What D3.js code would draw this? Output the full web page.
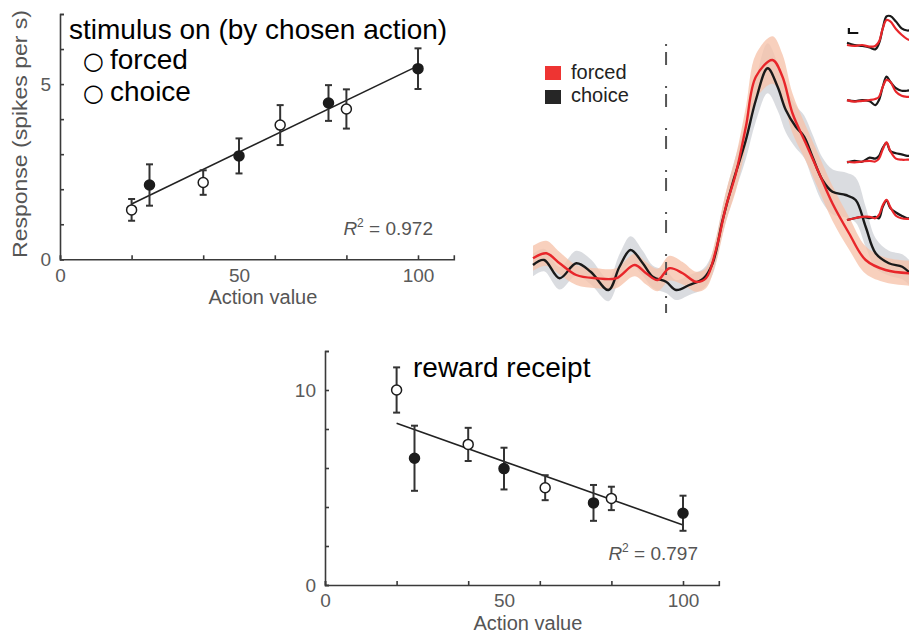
<!DOCTYPE html>
<html>
<head>
<meta charset="utf-8">
<script src="https://cdn.jsdelivr.net/npm/d3@7"></script>
<style>
  body { margin: 0; background: #fff; }
  svg { display: block; font-family: "Liberation Sans", Arial, sans-serif; }
</style>
</head>
<body>
<script>
// ---- scatter panels: action value vs response ----
var actionValue = [20, 25, 40, 50, 61.5, 75, 80, 100];
var trialType   = ["forced", "choice", "forced", "choice", "forced", "choice", "forced", "choice"];
var stimResp    = [1.41, 2.12, 2.19, 2.95, 3.83, 4.46, 4.29, 5.44];
var stimErr     = [0.31, 0.59, 0.35, 0.50, 0.57, 0.51, 0.56, 0.58];
var rewardResp  = [10.0, 6.50, 7.21, 5.97, 4.99, 4.21, 4.44, 3.68];
var rewardErr   = [1.16, 1.67, 0.85, 1.07, 0.64, 0.92, 0.60, 0.90];

var fitX       = [20, 100];
var stimFitY   = [1.58, 5.52];
var rewardFitY = [8.29, 3.08];

var xTicks        = [0, 20, 40, 60, 80, 100];
var xLabels       = [0, 50, 100];
var stimYTicks    = [0, 1, 2, 3, 4, 5, 6, 7];
var stimYLabels   = [0, 5];
var rewardYTicks  = [0, 2, 4, 6, 8, 10, 12];
var rewardYLabels = [0, 10];

// ---- time course (ms from stimulus, arbitrary rate units) ----
var choiceT  = [-600,-550,-480,-405,-340,-260,-210,-160,-105,-60,0,45,105,170,210,255,300,360,405,458,503,540,585,623,660,705,750,810,855,900,945,1005,1065,1100];
var choiceV  = [1.8,2.0,1.27,1.87,1.53,0.8,1.73,2.4,1.87,1.33,1.13,0.8,1.0,1.27,1.87,3.6,5.07,6.8,8.4,9.67,8.93,8.0,7.33,6.93,6.13,5.2,4.73,4.6,4.4,3.33,2.27,1.87,1.73,1.47];
var choiceSE = [0.45,0.45,0.45,0.5,0.5,0.45,0.5,0.55,0.5,0.45,0.45,0.4,0.4,0.4,0.45,0.55,0.65,0.75,0.85,1.0,0.95,0.9,0.85,0.85,0.9,0.9,0.9,0.9,0.9,0.8,0.6,0.5,0.5,0.5];

var forcedT  = [-600,-540,-480,-405,-315,-225,-142,-90,-38,15,75,135,180,225,270,315,360,405,480,525,570,630,690,750,825,900,990,1100];
var forcedV  = [2.07,2.27,1.87,1.4,1.27,1.27,1.8,1.47,1.2,1.67,1.47,1.13,1.27,2.4,4.13,5.47,7.33,9.33,10.0,9.33,7.87,6.67,5.47,4.27,3.07,2.0,1.6,1.47];
var forcedSE = [0.5,0.5,0.45,0.4,0.4,0.4,0.45,0.45,0.45,0.5,0.45,0.4,0.4,0.5,0.6,0.7,0.8,0.9,0.95,0.9,0.8,0.7,0.7,0.7,0.65,0.55,0.5,0.5];

// small insets on the right (four rows)
var insetT = [-600,-400,-200,0,150,250,350,450,550,700,850,1000,1100];
var insetChoice = [
  [2.3,1.67,1.4,1.0,0.46,2.1,6.3,9.6,9.7,8.2,6.3,5.7,5.8],
  [2.2,1.9,2.2,1.9,0.8,2.2,5.9,8.7,7.3,5.5,4.8,4.8,5.0],
  [1.57,2.0,1.74,2.9,2.6,3.35,5.6,7.0,4.7,4.1,3.8,3.35,3.5],
  [1.1,1.6,2.0,1.6,2.0,1.6,4.8,6.5,4.4,3.2,2.3,1.6,1.6]
];
var insetForced = [
  [1.67,1.4,1.67,1.2,1.4,2.6,6.3,8.6,8.2,6.1,4.5,3.3,2.9],
  [2.2,1.76,2.0,2.2,2.5,3.1,5.9,7.8,7.3,4.5,3.4,3.1,3.1],
  [1.74,1.57,1.8,2.0,1.8,2.6,5.2,7.1,4.7,2.6,2.3,2.3,2.3],
  [1.1,1.6,2.0,2.0,1.6,2.5,5.2,6.7,4.7,2.3,1.6,1.4,1.4]
];
var insetBase = [51, 108, 168, 224];
var scaleBarT = [-550, -300];
var scaleBarV = [5.0, 6.4];

var legendNames  = ["forced", "choice"];
var legendColors = ["#ee3432", "#262626"];

var svg = d3.select("body").append("svg")
    .attr("width", 909)
    .attr("height", 635);

// draws one scatter panel with axes, error bars and fit line
function scatterPanel(x, y, resp, err, fitY, yTicks, yLabels, rText, rValue) {
    var g = svg.append("g");

    // minor ticks (inward) + domain line
    g.append("g")
        .attr("transform", "translate(0," + y.range()[0] + ")")
        .call(d3.axisBottom(x).tickValues(xTicks).tickSize(-4).tickFormat(""));
    g.append("g")
        .attr("transform", "translate(0," + y.range()[0] + ")")
        .call(d3.axisBottom(x).tickValues(xLabels).tickSize(0).tickPadding(9).tickFormat(d3.format("d")))
        .call(a => a.select(".domain").remove());
    g.append("g")
        .attr("transform", "translate(" + x.range()[0] + ",0)")
        .call(d3.axisLeft(y).tickValues(yTicks).tickSize(-4).tickFormat(""));
    g.append("g")
        .attr("transform", "translate(" + x.range()[0] + ",0)")
        .call(d3.axisLeft(y).tickValues(yLabels).tickSize(0).tickPadding(9).tickFormat(d3.format("d")))
        .call(a => a.select(".domain").remove());

    g.selectAll(".domain, .tick line").attr("stroke", "#3a3a3a").attr("stroke-width", 1.6);
    g.selectAll(".tick text").attr("fill", "#5a5a5a").attr("font-size", "19px")
        .attr("font-family", "'Liberation Sans', Arial, sans-serif");

    // fit line
    g.append("line")
        .attr("x1", x(fitX[0])).attr("y1", y(fitY[0]))
        .attr("x2", x(fitX[1])).attr("y2", y(fitY[1]))
        .attr("stroke", "#222").attr("stroke-width", 1.6);

    var idx = d3.range(actionValue.length);
    // error bars
    var eb = g.selectAll(".eb").data(idx).enter().append("g").attr("class", "eb")
        .attr("stroke", "#333").attr("stroke-width", 2);
    eb.append("line")
        .attr("x1", i => x(actionValue[i])).attr("x2", i => x(actionValue[i]))
        .attr("y1", i => y(resp[i] + err[i])).attr("y2", i => y(resp[i] - err[i]));
    eb.append("line")
        .attr("x1", i => x(actionValue[i]) - 3.5).attr("x2", i => x(actionValue[i]) + 3.5)
        .attr("y1", i => y(resp[i] + err[i])).attr("y2", i => y(resp[i] + err[i]));
    eb.append("line")
        .attr("x1", i => x(actionValue[i]) - 3.5).attr("x2", i => x(actionValue[i]) + 3.5)
        .attr("y1", i => y(resp[i] - err[i])).attr("y2", i => y(resp[i] - err[i]));

    g.selectAll(".pt").data(idx).enter().append("circle").attr("class", "pt")
        .attr("cx", i => x(actionValue[i]))
        .attr("cy", i => y(resp[i]))
        .attr("r", 5)
        .attr("fill", i => trialType[i] == "forced" ? "#fff" : "#1c1c1c")
        .attr("stroke", "#1c1c1c")
        .attr("stroke-width", 1.5);

    // R^2 label
    var rt = g.append("text")
        .attr("x", x(100) + 15).attr("y", rText)
        .attr("text-anchor", "end")
        .attr("font-size", "19px").attr("fill", "#555");
    rt.append("tspan").attr("font-style", "italic").text("R");
    rt.append("tspan").attr("font-size", "12px").attr("dy", -8).text("2");
    rt.append("tspan").attr("dy", 8).text(" = " + rValue);

    g.append("text")
        .attr("x", (x.range()[0] + x.range()[1]) / 2 + 6)
        .attr("y", y.range()[0] + 45)
        .attr("text-anchor", "middle")
        .attr("font-size", "20px").attr("fill", "#555")
        .text("Action value");
    return g;
}

// top-left panel: stimulus on
var x1 = d3.scaleLinear().domain([0, 110]).range([60, 453.8]);
var y1 = d3.scaleLinear().domain([0, 7]).range([259.3, 14]);
scatterPanel(x1, y1, stimResp, stimErr, stimFitY, stimYTicks, stimYLabels, 235, "0.972");

svg.append("text")
    .attr("transform", "translate(27,134) rotate(-90) scale(1.15,1)")
    .attr("text-anchor", "middle")
    .attr("font-size", "20px").attr("fill", "#555")
    .text("Response (spikes per s)");

svg.append("text").attr("x", 69).attr("y", 39).attr("font-size", "28px").attr("fill", "#000")
    .text("stimulus on (by chosen action)");
["forced", "choice"].forEach(function(name, i) {
    var t = svg.append("text").attr("y", 69 + i * 32).attr("font-size", "28px").attr("fill", "#000");
    t.append("tspan").attr("x", 83).attr("font-family", "'DejaVu Sans', sans-serif")
        .attr("font-size", "24px").text("○");
    t.append("tspan").attr("x", 110).text(name);
});

// bottom panel: reward receipt
var x2 = d3.scaleLinear().domain([0, 110]).range([325, 718.8]);
var y2 = d3.scaleLinear().domain([0, 12]).range([585, 351]);
scatterPanel(x2, y2, rewardResp, rewardErr, rewardFitY, rewardYTicks, rewardYLabels, 560, "0.797");

svg.append("text").attr("x", 413).attr("y", 377).attr("font-size", "28px").attr("fill", "#000")
    .text("reward receipt");

// ---- time course panel ----
var xT = d3.scaleLinear().domain([-600, 1100]).range([533, 910]);
var yT = d3.scaleLinear().domain([0, 12]).range([310, 10]);

function band(T, V, SE) {
    return d3.area().curve(d3.curveCatmullRom)
        .x(i => xT(T[i]))
        .y0(i => yT(V[i] - SE[i]))
        .y1(i => yT(V[i] + SE[i]))(d3.range(T.length));
}
function trace(T, V, xs, ys) {
    return d3.line().curve(d3.curveCatmullRom)
        .x(i => xs(T[i]))
        .y(i => ys(V[i]))(d3.range(T.length));
}

svg.append("path").attr("d", band(choiceT, choiceV, choiceSE))
    .attr("fill", "#d3d6da").attr("opacity", 0.85);
svg.append("path").attr("d", band(forcedT, forcedV, forcedSE))
    .attr("fill", "#f6c3ab").attr("opacity", 0.78);

// stimulus onset line
svg.append("line")
    .attr("x1", xT(0)).attr("x2", xT(0))
    .attr("y1", 44).attr("y2", 313)
    .attr("stroke", "#555").attr("stroke-width", 2)
    .attr("stroke-dasharray", "2,6,13,21");

svg.append("path").attr("d", trace(choiceT, choiceV, xT, yT))
    .attr("fill", "none").attr("stroke", "#1a1a1a").attr("stroke-width", 2.4);
svg.append("path").attr("d", trace(forcedT, forcedV, xT, yT))
    .attr("fill", "none").attr("stroke", "#e8262a").attr("stroke-width", 2.4);

// legend
var leg = svg.append("g");
legendNames.forEach(function(name, i) {
    leg.append("rect").attr("x", 545).attr("y", 66 + i * 24).attr("width", 16).attr("height", 14)
        .attr("fill", legendColors[i]);
    leg.append("text").attr("x", 571).attr("y", 79 + i * 23)
        .attr("font-size", "20px").attr("fill", "#222").text(name);
});

// insets
var xI = d3.scaleLinear().domain([-600, 1100]).range([847, 911]);
insetBase.forEach(function(b, r) {
    var yI = d3.scaleLinear().domain([0, 12]).range([b, b - 43.2]);
    svg.append("path").attr("d", trace(insetT, insetChoice[r], xI, yI))
        .attr("fill", "none").attr("stroke", "#1a1a1a").attr("stroke-width", 2.2);
    svg.append("path").attr("d", trace(insetT, insetForced[r], xI, yI))
        .attr("fill", "none").attr("stroke", "#e8262a").attr("stroke-width", 2.2);
    if (r == 0) {
        svg.append("path")
            .attr("d", "M" + xI(scaleBarT[0]) + "," + yI(scaleBarV[1]) +
                       "V" + yI(scaleBarV[0]) + "H" + xI(scaleBarT[1]))
            .attr("fill", "none").attr("stroke", "#111").attr("stroke-width", 2.2);
    }
});
</script>
</body>
</html>
